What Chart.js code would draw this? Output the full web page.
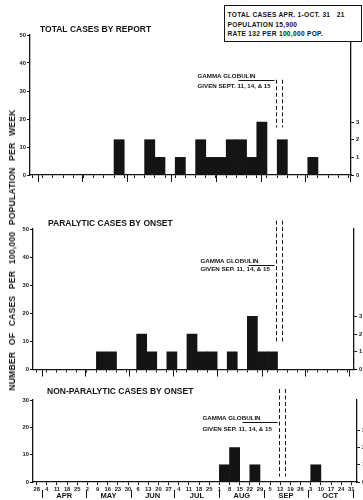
<!DOCTYPE html>
<html>
<head>
<meta charset="utf-8">
<script src="https://cdn.jsdelivr.net/npm/chart.js@4.4.1/dist/chart.umd.min.js"></script>
<style>
  html, body { margin: 0; padding: 0; background: #fff; overflow: hidden; }
  body { width: 363px; height: 500px; position: relative; }
  canvas { position: absolute; left: 0; }
  #ytitle {
    position: absolute; left: 12px; top: 250px;
    transform: translate(-50%, -50%) rotate(-90deg);
    font: bold 8.6px "Liberation Sans", sans-serif; word-spacing: 4px; letter-spacing: 0.2px;
    white-space: nowrap; color: #141414;
  }
  #summary {
    position: absolute; left: 224px; top: 5px; width: 133px; height: 30.7px;
    padding: 4px 0 0 2.5px; border: 1px solid #141414; background: #fff;
    font: bold 6.6px "Liberation Sans", sans-serif; line-height: 9.5px; letter-spacing: 0.3px;
    color: #141414; white-space: pre;
  }
</style>
</head>
<body>
<canvas id="report" width="372" height="200" style="top:0"></canvas>
<canvas id="paralytic" width="372" height="180" style="top:200px"></canvas>
<canvas id="nonparalytic" width="372" height="120" style="top:380px"></canvas>
<div id="ytitle">NUMBER OF CASES PER 100,000 POPULATION PER WEEK</div>
<div id="summary">TOTAL CASES APR. 1-OCT. 31   21
POPULATION 15,900
RATE 132 PER 100,000 POP.</div>
<script>
const ink = '#141414';
const population = 15900;

// weeks beginning Sunday, Mar 28 through Oct 31
const weekLabels = ['28','4','11','18','25','2','9','16','23','30','6','13','20','27','4','11','18','25','1','8','15','22','29','5','12','19','26','3','10','17','24','31'];
const monthNames = ['APR','MAY','JUN','JUL','AUG','SEP','OCT'];
// day (counted from Mar 28) on which each month starts, Apr 1 .. Nov 1
const monthStartDays = [4, 34, 65, 95, 126, 157, 187, 218];
// gamma globulin days, Sep 11 and Sep 15
const gammaDays = [167, 171];
// right hand scale, number of cases
const caseTicks = [0, 1, 2, 3];

// cases per 100,000 population, one value per week from Mar 28
const totalByReport = [0,0,0,0,0,0,0,0,12.6,0,0,12.6,6.3,0,6.3,0,12.6,6.3,6.3,12.6,12.6,6.3,18.9,0,12.6,0,0,6.3,0,0,0];
const paralyticByOnset = [0,0,0,0,0,0,6.3,6.3,0,0,12.6,6.3,0,6.3,0,12.6,6.3,6.3,0,6.3,0,18.9,6.3,6.3,0,0,0,0,0,0,0];
const nonParalyticByOnset = [0,0,0,0,0,0,0,0,0,0,0,0,0,0,0,0,0,0,6.3,12.6,0,6.3,0,0,0,0,0,6.3,0,0,0];

const font = (size) => ({ family: '"Liberation Sans", sans-serif', size: size, weight: 'bold' });

// titles, month marks, gamma globulin lines and note
const marks = {
  id: 'marks',
  afterDraw(chart, args, o) {
    const { ctx, chartArea: a, scales: { x, y } } = chart;
    ctx.save();
    ctx.fillStyle = ink;
    ctx.strokeStyle = ink;
    ctx.lineWidth = 1;
    ctx.textBaseline = 'middle';

    ctx.font = 'bold 8.5px "Liberation Sans"';
    ctx.textAlign = 'left';
    ctx.fillText(o.title, a.left + o.titleX, a.top + o.titleY);

    monthStartDays.forEach(d => {
      const px = Math.round(x.getPixelForValue(d / 7)) + 0.5;
      ctx.beginPath();
      ctx.moveTo(px, a.bottom + o.monthTickFrom);
      ctx.lineTo(px, a.bottom + o.monthTickTo);
      ctx.stroke();
    });
    if (o.monthLabels) {
      ctx.font = 'bold 7.5px "Liberation Sans"';
      ctx.textAlign = 'center';
      monthNames.forEach((m, i) => {
        const mid = (monthStartDays[i] + monthStartDays[i + 1]) / 14;
        ctx.fillText(m, x.getPixelForValue(mid), a.bottom + o.monthLabelY);
      });
    }

    const g = gammaDays.map(d => Math.round(x.getPixelForValue(d / 7)) + 0.5);
    ctx.setLineDash([4, 2.5]);
    g.forEach(px => {
      ctx.beginPath();
      ctx.moveTo(px, y.getPixelForValue(o.dashFrom));
      ctx.lineTo(px, y.getPixelForValue(o.dashTo));
      ctx.stroke();
    });
    ctx.setLineDash([]);

    ctx.font = 'bold 6.2px "Liberation Sans"';
    ctx.textAlign = 'left';
    ctx.fillText('GAMMA GLOBULIN', g[0] + o.noteX, y.getPixelForValue(o.noteY1));
    ctx.fillText(o.noteGiven, g[0] + o.noteX, y.getPixelForValue(o.noteY2));
    const ry = Math.round(y.getPixelForValue(o.ruleY)) + 0.5;
    ctx.beginPath();
    ctx.moveTo(g[0] + o.ruleX, ry);
    ctx.lineTo(g[0] - 2, ry);
    ctx.stroke();
    ctx.restore();
  }
};

function panel(id, title, values, p) {
  const casesPerRate = population / 100000;
  return new Chart(document.getElementById(id), {
    type: 'bar',
    data: {
      datasets: [{
        data: values.map((v, i) => ({ x: i + 0.5, y: v })),
        backgroundColor: ink,
        borderWidth: 0,
        barPercentage: 1,
        categoryPercentage: 1
      }]
    },
    options: {
      responsive: false,
      animation: false,
      devicePixelRatio: 1,
      layout: { padding: { top: p.top, left: 0, right: 0, bottom: 0 } },
      plugins: {
        legend: { display: false },
        tooltip: { enabled: false },
        marks: Object.assign({ title: title }, p.marks)
      },
      scales: {
        x: {
          type: 'linear',
          min: p.xMin,
          max: p.xMax,
          offset: false,
          afterBuildTicks: s => { s.ticks = weekLabels.map((_, i) => ({ value: i })); },
          afterFit: s => { s.height = p.xHeight; },
          grid: { drawOnChartArea: false, offset: false, color: ink, tickLength: 3, tickWidth: 1 },
          border: { color: ink, width: 1.3 },
          ticks: {
            display: p.labels,
            autoSkip: false,
            maxRotation: 0,
            minRotation: 0,
            padding: 1,
            color: ink,
            font: font(5.8),
            callback: v => weekLabels[v]
          }
        },
        y: {
          position: 'left',
          min: 0,
          max: p.yMax,
          afterFit: s => { s.width = p.left; },
          grid: { drawOnChartArea: false, color: ink, tickLength: 3, tickWidth: 1 },
          border: { color: ink, width: 1.3 },
          ticks: { stepSize: 10, padding: 1, color: ink, font: font(5.8) }
        },
        y2: {
          position: 'right',
          min: 0,
          max: p.yMax * casesPerRate,
          afterBuildTicks: s => { s.ticks = caseTicks.map(v => ({ value: v })); },
          afterFit: s => { s.width = 372 - p.right; },
          grid: { drawOnChartArea: false, color: ink, tickLength: 3, tickWidth: 1 },
          border: { color: ink, width: 1.3 },
          ticks: { padding: 2, color: ink, font: font(5.8) }
        }
      }
    },
    plugins: [marks]
  });
}

panel('report', 'TOTAL CASES BY REPORT', totalByReport, {
  top: 35, left: 30, right: 351, xMin: -0.24, xMax: 31.24, yMax: 50, xHeight: 25, labels: false,
  marks: {
    titleX: 10, titleY: -5, monthTickFrom: 0, monthTickTo: 7, monthLabels: false,
    dashFrom: 34, dashTo: 17, noteX: -79, ruleX: -38, noteY1: 35.4, noteY2: 31.8, ruleY: 33.9,
    noteGiven: 'GIVEN SEPT. 11, 14, & 15'
  }
});

panel('paralytic', 'PARALYTIC CASES BY ONSET', paralyticByOnset, {
  top: 29, left: 33, right: 354, xMin: -0.3, xMax: 31.6, yMax: 50, xHeight: 10.5, labels: false,
  marks: {
    titleX: 15, titleY: -5, monthTickFrom: 0, monthTickTo: 7, monthLabels: false,
    dashFrom: 53, dashTo: 10, noteX: -76, ruleX: -28, noteY1: 38.6, noteY2: 35.6, ruleY: 37.2,
    noteGiven: 'GIVEN SEP. 11, 14, & 15'
  }
});

panel('nonparalytic', 'NON-PARALYTIC CASES BY ONSET', nonParalyticByOnset, {
  top: 20, left: 33, right: 357, xMin: -0.36, xMax: 31.56, yMax: 30, xHeight: 18, labels: true,
  marks: {
    titleX: 14, titleY: -8, monthTickFrom: 8, monthTickTo: 16, monthLabels: true, monthLabelY: 13.5,
    dashFrom: 34, dashTo: 2, noteX: -77, ruleX: -37, noteY1: 23.4, noteY2: 19.4, ruleY: 22.1,
    noteGiven: 'GIVEN SEP. 11, 14, & 15'
  }
});
</script>
</body>
</html>
